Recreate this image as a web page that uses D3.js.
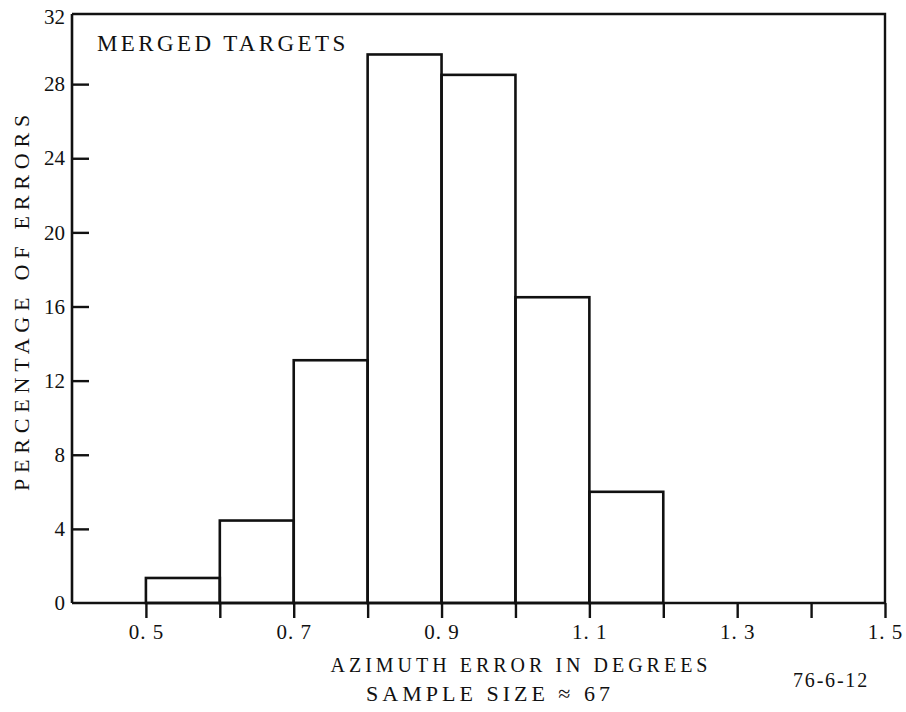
<!DOCTYPE html>
<html><head><meta charset="utf-8">
<script src="https://cdn.jsdelivr.net/npm/d3@7"></script>
<style>body{margin:0;background:#fff}svg{display:block}text{font-family:"Liberation Serif","DejaVu Serif",serif;fill:#111}</style>
</head><body><svg id="c" width="906" height="712"></svg>
<script>
const binStarts = [0.5, 0.6, 0.7, 0.8, 0.9, 1.0, 1.1];
const binWidth = 0.1;
const percentages = [1.35, 4.45, 13.1, 29.6, 28.5, 16.5, 6.0];
const xTicks = [0.5,0.6,0.7,0.8,0.9,1.0,1.1,1.2,1.3,1.4,1.5];
const xTickLabels = {"0.5":"0. 5","0.7":"0. 7","0.9":"0. 9","1.1":"1. 1","1.3":"1. 3","1.5":"1. 5"};
const yTicks = [0,4,8,12,16,20,24,28,32];

const svg = d3.select("#c");
const L=72, R=885, T=10, B=603;
const x = d3.scaleLinear().domain([0.4,1.5]).range([L,R]);
const y = d3.scaleLinear().domain([0,32]).range([B,T]);
const ink="#111";

// frame (top and right)
svg.append("path").attr("d",`M${L},${T+4}H${R}V${B}`).attr("fill","none").attr("stroke",ink).attr("stroke-width",2.4);

// bars
svg.append("g").selectAll("rect").data(binStarts).join("rect")
  .attr("x",d=>x(d)).attr("width",d=>x(d+binWidth)-x(d))
  .attr("y",(d,i)=>y(percentages[i])).attr("height",(d,i)=>B-y(percentages[i]))
  .attr("fill","none").attr("stroke",ink).attr("stroke-width",2.6);

// x axis
const xAxis = d3.axisBottom(x).tickValues(xTicks).tickSize(15).tickPadding(5)
  .tickFormat(d=>xTickLabels[d3.format(".1f")(d)]||"");
const gx = svg.append("g").attr("transform",`translate(0,${B})`).call(xAxis);
gx.select(".domain").attr("d",`M${L},0H${R}`).attr("stroke",ink).attr("stroke-width",2.6);
gx.selectAll(".tick line").attr("stroke",ink).attr("stroke-width",2.4);
gx.selectAll(".tick text").attr("font-size",21).attr("font-family","Liberation Serif, serif").attr("fill",ink).attr("dy","0.78em").attr("letter-spacing",1);

// y axis with inward ticks
const yAxis = d3.axisLeft(y).tickValues(yTicks).tickSize(-17).tickPadding(7).tickFormat(d3.format("d"));
const gy = svg.append("g").attr("transform",`translate(${L},0)`).call(yAxis);
gy.select(".domain").attr("d",`M0,${T+4}V${B}`).attr("stroke",ink).attr("stroke-width",2.6);
gy.selectAll(".tick line").attr("stroke",ink).attr("stroke-width",2.4);
gy.selectAll(".tick text").attr("font-size",21).attr("font-family","Liberation Serif, serif").attr("fill",ink);
gy.selectAll(".tick").filter(d=>d===0||d===32).select("line").remove();
gy.selectAll(".tick").filter(d=>d===32).select("text").attr("dy","0.62em");

// texts
svg.append("text").attr("x",97).attr("y",51).attr("font-size",23).attr("letter-spacing",3.4).text("MERGED TARGETS");
svg.append("text").attr("x",521).attr("y",672).attr("text-anchor","middle").attr("font-size",20).attr("letter-spacing",4).text("AZIMUTH ERROR IN DEGREES");
svg.append("text").attr("x",490).attr("y",701).attr("text-anchor","middle").attr("font-size",22).attr("letter-spacing",4).text("SAMPLE SIZE \u2248 67");
svg.append("text").attr("x",831).attr("y",687).attr("text-anchor","middle").attr("font-size",20).attr("letter-spacing",1.8).text("76-6-12");
svg.append("text").attr("transform","translate(29,300) rotate(-90)").attr("text-anchor","middle").attr("font-size",22).attr("letter-spacing",5.8).text("PERCENTAGE OF ERRORS");
</script></body></html>
